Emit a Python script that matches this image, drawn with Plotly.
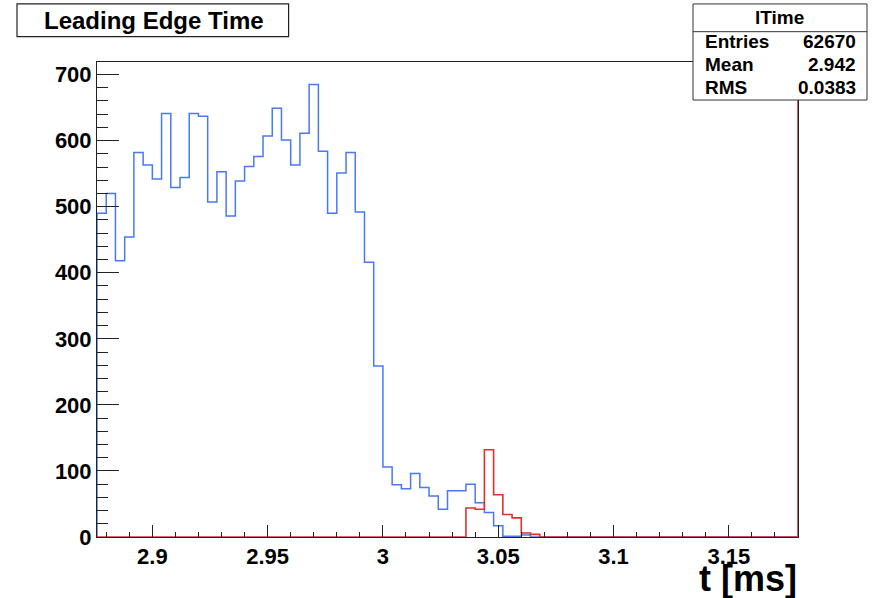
import numpy as np
import plotly.graph_objects as go

# ---------------- data ----------------
X_MIN = 2.876
BIN_W = 0.004
N_BINS = 76
Y_MAX = 719

blue_counts = [490, 520, 418, 454, 582, 563, 542, 641, 529, 544,
               641, 637, 507, 553, 486, 539, 561, 576, 607, 649,
               601, 563, 611, 685, 584, 490, 551, 582, 492, 416,
               259, 106, 79, 73, 96, 75, 62, 42, 70, 70,
               80, 52, 37, 17, 1, 1, 3, 0, 0, 0,
               0, 0, 0, 0, 0, 0, 0, 0, 0, 0,
               0, 0, 0, 0, 0, 0, 0, 0, 0, 0,
               0, 0, 0, 0, 0, 0]
red_counts = [0] * 40 + [44, 42, 132, 64, 34, 29, 6, 4] + [0] * 28

x_tick_vals = [2.9, 2.95, 3.0, 3.05, 3.1, 3.15]
x_tick_text = ["2.9", "2.95", "3", "3.05", "3.1", "3.15"]
y_tick_vals = [0, 100, 200, 300, 400, 500, 600, 700]
y_tick_text = ["0", "100", "200", "300", "400", "500", "600", "700"]

title_text = "Leading Edge Time"
stats_name = "lTime"
stats_labels = ["Entries", "Mean", "RMS"]
stats_values = ["62670", "2.942", "0.0383"]
x_title = "t [ms]"

# ---------------- layout geometry (page pixels) ----------------
W, H = 875, 598
PLOT_L, PLOT_R, PLOT_T, PLOT_B = 96.7, 797.7, 62.0, 536.7
L = PLOT_L
T = PLOT_T
R = W - PLOT_R
B = H - PLOT_B
PW, PH = PLOT_R - PLOT_L, PLOT_B - PLOT_T


def px_x(p):
    return (p - PLOT_L) / PW


def px_y(p):
    return (PLOT_B - p) / PH


edges = X_MIN + BIN_W * np.arange(N_BINS + 1)

blue_x = [edges[0]] + list(edges)
blue_y = [0] + list(blue_counts) + [0]
red_x = [edges[0]] + list(edges) + [edges[-1]]
red_y = [0] + list(red_counts) + [0, Y_MAX]

FONT = "Liberation Sans, Arial, Helvetica, sans-serif"

fig = go.Figure()
fig.add_trace(go.Scatter(x=blue_x, y=blue_y, mode="lines", line_shape="hv",
                         line=dict(color="#4a78f2", width=1.5), hoverinfo="skip"))
fig.add_trace(go.Scatter(x=red_x, y=red_y, mode="lines", line_shape="hv",
                         line=dict(color="#e03030", width=1.6), hoverinfo="skip"))

axis_common = dict(showgrid=False, zeroline=False, showline=True, linecolor="#222",
                   linewidth=1, mirror=True, ticks="inside", tickcolor="#222",
                   tickwidth=1)

fig.update_xaxes(range=[edges[0], edges[-1]], tickmode="array", tickvals=x_tick_vals,
                 ticktext=x_tick_text, ticklen=12,
                 tickfont=dict(family=FONT, size=22, color="black", weight="bold"),
                 minor=dict(tickmode="linear", tick0=0, dtick=0.01, ticklen=5,
                            ticks="inside", tickcolor="#222", tickwidth=1),
                 **axis_common)
fig.update_yaxes(range=[0, Y_MAX], tickmode="array", tickvals=y_tick_vals,
                 ticktext=y_tick_text, ticklen=22,
                 tickfont=dict(family=FONT, size=22, color="black", weight="bold"),
                 minor=dict(tickmode="linear", tick0=0, dtick=20, ticklen=11,
                            ticks="inside", tickcolor="#222", tickwidth=1),
                 **axis_common)

shapes = []
annotations = []

# title box
shapes.append(dict(type="rect", xref="paper", yref="paper",
                   x0=px_x(16.7), x1=px_x(288.3), y0=px_y(36.7), y1=px_y(4),
                   line=dict(color="#222", width=1.2), fillcolor="white", layer="above"))
annotations.append(dict(text=title_text, xref="paper", yref="paper",
                        x=px_x(154), y=px_y(20.5), xanchor="center", yanchor="middle",
                        showarrow=False,
                        font=dict(family=FONT, size=24, color="black", weight="bold")))

# stats box
shapes.append(dict(type="rect", xref="paper", yref="paper",
                   x0=px_x(692.7), x1=px_x(866.7), y0=px_y(100), y1=px_y(4),
                   line=dict(color="#333", width=1), fillcolor="white", layer="above"))
shapes.append(dict(type="line", xref="paper", yref="paper",
                   x0=px_x(692.7), x1=px_x(866.7), y0=px_y(31.7), y1=px_y(31.7),
                   line=dict(color="#333", width=1), layer="above"))
annotations.append(dict(text=stats_name, xref="paper", yref="paper",
                        x=px_x(779.5), y=px_y(18), xanchor="center", yanchor="middle",
                        showarrow=False,
                        font=dict(family=FONT, size=19, color="black", weight="bold")))
row_y = [41.5, 64, 87.5]
for lab, val, yy in zip(stats_labels, stats_values, row_y):
    annotations.append(dict(text=lab, xref="paper", yref="paper", x=px_x(702.5),
                            y=px_y(yy), xanchor="left", yanchor="middle", showarrow=False,
                            font=dict(family=FONT, size=19, color="black", weight="bold")))
    annotations.append(dict(text=val, xref="paper", yref="paper", x=px_x(858),
                            y=px_y(yy), xanchor="right", yanchor="middle", showarrow=False,
                            font=dict(family=FONT, size=19, color="black", weight="bold")))

# x-axis title
annotations.append(dict(text=x_title, xref="paper", yref="paper", x=px_x(799),
                        y=px_y(578), xanchor="right", yanchor="middle", showarrow=False,
                        font=dict(family=FONT, size=36, color="black", weight="bold")))

fig.update_layout(width=W, height=H, margin=dict(l=L, r=R, t=T, b=B, pad=0),
                  paper_bgcolor="white", plot_bgcolor="white", showlegend=False,
                  shapes=shapes, annotations=annotations)

fig.write_html("out.html", config={"displayModeBar": False, "staticPlot": True},
               post_script="document.body.style.margin='0';document.body.style.overflow='hidden';")
